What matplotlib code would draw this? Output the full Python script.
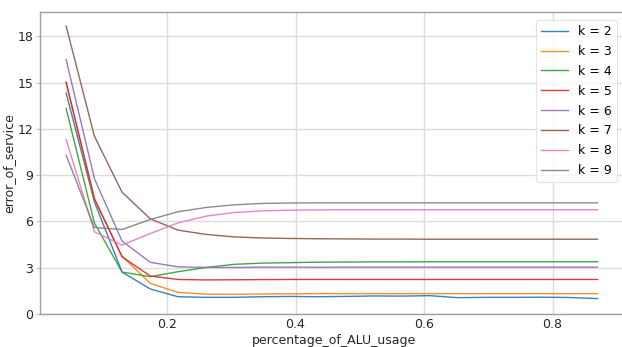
import matplotlib
matplotlib.use("Agg")
import matplotlib.pyplot as plt

x = [0.043, 0.087, 0.130, 0.174, 0.217, 0.261, 0.304, 0.348, 0.391, 0.435,
     0.478, 0.522, 0.565, 0.609, 0.652, 0.696, 0.739, 0.783, 0.826, 0.870]

k2 = [14.33, 7.27, 2.72, 1.62, 1.12, 1.08, 1.08, 1.12, 1.14, 1.12,
      1.14, 1.17, 1.16, 1.19, 1.06, 1.08, 1.08, 1.09, 1.07, 1.00]
k3 = [14.98, 7.42, 3.75, 1.99, 1.40, 1.29, 1.28, 1.30, 1.31, 1.32,
      1.32, 1.32, 1.32, 1.32, 1.32, 1.32, 1.32, 1.32, 1.32, 1.32]
k4 = [13.32, 5.90, 2.72, 2.42, 2.74, 3.02, 3.22, 3.30, 3.33, 3.36,
      3.37, 3.38, 3.38, 3.39, 3.39, 3.39, 3.39, 3.39, 3.39, 3.39]
k5 = [15.04, 7.49, 3.71, 2.46, 2.24, 2.21, 2.22, 2.23, 2.24, 2.24,
      2.24, 2.24, 2.24, 2.24, 2.24, 2.24, 2.24, 2.24, 2.24, 2.24]
k6 = [16.50, 8.78, 4.73, 3.35, 3.06, 3.02, 3.02, 3.04, 3.04, 3.03,
      3.04, 3.04, 3.04, 3.04, 3.04, 3.04, 3.04, 3.04, 3.04, 3.04]
k7 = [18.67, 11.53, 7.90, 6.17, 5.44, 5.16, 5.00, 4.93, 4.90, 4.88,
      4.87, 4.86, 4.86, 4.85, 4.85, 4.85, 4.85, 4.85, 4.85, 4.85]
k8 = [11.31, 5.33, 4.47, 5.22, 5.91, 6.35, 6.58, 6.69, 6.73, 6.75,
      6.76, 6.76, 6.76, 6.76, 6.76, 6.76, 6.76, 6.76, 6.76, 6.76]
k9 = [10.30, 5.61, 5.48, 6.13, 6.63, 6.91, 7.08, 7.17, 7.20, 7.21,
      7.21, 7.21, 7.21, 7.21, 7.21, 7.21, 7.21, 7.21, 7.21, 7.21]

series = [k2, k3, k4, k5, k6, k7, k8, k9]
labels = ["k = 2", "k = 3", "k = 4", "k = 5", "k = 6", "k = 7", "k = 8", "k = 9"]
yticks = [0, 3, 6, 9, 12, 15, 18]
xticks = [0.2, 0.4, 0.6, 0.8]

plt.rcParams['font.family'] = ['DejaVu Sans']
fig = plt.figure(figsize=(6.22, 3.47), dpi=100)
ax = fig.add_axes([0.0643, 0.0951, 0.946, 0.870])

colors = plt.get_cmap('tab10').colors
for s, lab, c in zip(series, labels, colors):
    ax.plot(x, s, color=c, lw=1.0, label=lab, alpha=0.9)

ax.set_xlim(0.0023, 0.918)
ax.set_ylim(0, 19.58)
ax.set_xticks(xticks)
ax.set_yticks(yticks)
ax.grid(True, color='#dcdcdc', lw=1.0)
ax.set_axisbelow(True)
for sp in ax.spines.values():
    sp.set_color('#a0a0a0')
    sp.set_linewidth(1.0)
ax.tick_params(axis='x', length=0, labelsize=9, colors='#262626', pad=3)
ax.tick_params(axis='y', length=3, width=0.8, color='#c0c0c0', labelsize=9,
               labelcolor='#262626', pad=2)
ax.set_xlabel("percentage_of_ALU_usage", fontsize=9, color='#262626', labelpad=2)
ax.set_ylabel("error_of_service", fontsize=9, color='#262626', labelpad=1.5)

leg = ax.legend(loc='upper left', bbox_to_anchor=(0.8428, 0.9735), borderaxespad=0,
                fontsize=9, frameon=True, handlelength=2.2, labelspacing=0.55,
                borderpad=0.4, handletextpad=0.8)
leg.get_frame().set_edgecolor('#dddddd')
leg.get_frame().set_linewidth(0.8)

fig.savefig("out.png", dpi=100)
